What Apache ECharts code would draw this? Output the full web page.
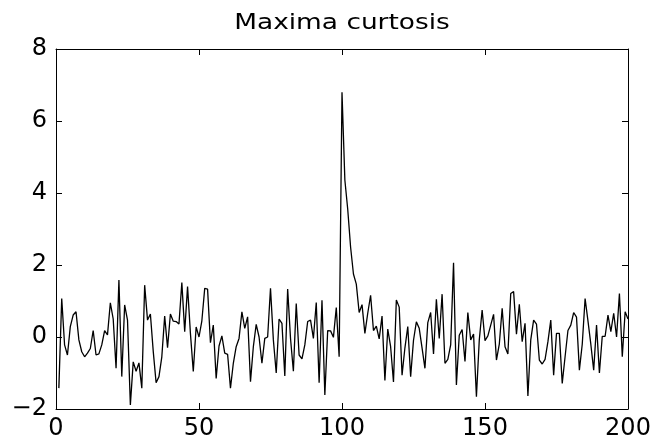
<!DOCTYPE html>
<html>
<head>
<meta charset="utf-8">
<script src="https://cdn.jsdelivr.net/npm/echarts@6/dist/echarts.min.js"></script>
<style>
  html, body { margin: 0; padding: 0; background: #fff; }
  #main { width: 656px; height: 443px; }
</style>
</head>
<body>
<div id="main"></div>
<script>
// values, x = 1..200
var curtosis = [
  -1.42, 1.07, -0.22, -0.5, 0.29, 0.61, 0.7, -0.08, -0.41, -0.55,
  -0.45, -0.32, 0.18, -0.5, -0.47, -0.22, 0.18, 0.06, 0.95, 0.5,
  -0.87, 1.58, -1.1, 0.89, 0.47, -1.89, -0.69, -0.95, -0.72, -1.42,
  1.44, 0.47, 0.64, -0.4, -1.27, -1.1, -0.55, 0.58, -0.3, 0.64,
  0.44, 0.43, 0.36, 1.51, 0.15, 1.4, 0.1, -0.96, 0.28, 0.0,
  0.45, 1.35, 1.33, -0.16, 0.33, -1.15, -0.25, 0.03, -0.45, -0.48,
  -1.42, -0.73, -0.27, -0.04, 0.7, 0.24, 0.56, -1.24, -0.27, 0.35,
  0.0, -0.73, -0.04, 0.0, 1.35, -0.08, -1.0, 0.5, 0.38, -1.08,
  1.33, -0.04, -0.95, 0.93, -0.5, -0.61, -0.22, 0.43, 0.47, -0.04,
  0.96, -1.27, 1.02, -1.61, 0.18, 0.17, -0.01, 0.82, -0.55, 6.8,
  4.36, 3.55, 2.5, 1.75, 1.47, 0.68, 0.9, 0.1, 0.66, 1.16,
  0.18, 0.3, -0.05, 0.58, -1.21, 0.22, -0.27, -1.25, 1.03, 0.83,
  -1.06, -0.3, 0.29, -1.1, -0.09, 0.42, 0.24, -0.31, -0.87, 0.4,
  0.68, -0.47, 1.05, -0.04, 1.19, -0.73, -0.62, -0.22, 2.06, -1.33,
  0.05, 0.21, -0.68, 0.68, -0.08, 0.08, -1.66, -0.08, 0.75, -0.1,
  0.03, 0.33, 0.63, -0.64, -0.2, 0.8, -0.27, -0.47, 1.21, 1.26,
  0.08, 0.91, -0.13, 0.38, -1.64, -0.08, 0.47, 0.36, -0.64, -0.75,
  -0.62, -0.13, 0.47, -1.06, 0.1, 0.1, -1.29, -0.55, 0.18, 0.33,
  0.68, 0.55, -0.92, -0.2, 1.07, 0.45, -0.2, -0.92, 0.33, -1.0,
  0.02, 0.02, 0.61, 0.15, 0.66, 0.0, 1.21, -0.55, 0.7, 0.5
];
var xTicks = [0, 50, 100, 150, 200];
var yTicks = [-2, 0, 2, 4, 6, 8];

var points = curtosis.map(function (v, i) { return [i + 1, v]; });

var font = 'DejaVu Sans, sans-serif';
var minus = function (v) { return String(v).replace('-', '\u2212'); };

var boxLine = { show: true, onZero: false, lineStyle: { color: '#000', width: 1 } };
var inTick = { show: true, inside: true, length: 6, lineStyle: { color: '#000', width: 1 } };

var myChart = echarts.init(document.getElementById('main'));
var option = {
    animation: false,
    // title drawn as graphic so it can be stretched like the original
    graphic: [
        {
            type: 'text',
            x: 342,
            y: 12,
            scaleX: 1.2,
            style: {
                text: 'Maxima curtosis',
                font: '22px DejaVu Sans, sans-serif',
                fill: '#000',
                textAlign: 'center',
                textVerticalAlign: 'top'
            }
        }
    ],
    grid: { left: 56, right: 28, top: 49, bottom: 34 },
    xAxis: [
        {
            type: 'value', min: xTicks[0], max: xTicks[xTicks.length - 1], interval: 50,
            axisLine: boxLine, axisTick: inTick, splitLine: { show: false },
            axisLabel: { color: '#000', fontFamily: font, fontSize: 24, margin: 8, formatter: minus }
        },
        {
            type: 'value', position: 'top', min: xTicks[0], max: xTicks[xTicks.length - 1], interval: 50,
            axisLine: boxLine, axisTick: inTick, splitLine: { show: false }, axisLabel: { show: false }
        }
    ],
    yAxis: [
        {
            type: 'value', min: yTicks[0], max: yTicks[yTicks.length - 1], interval: 2,
            axisLine: boxLine, axisTick: inTick, splitLine: { show: false },
            axisLabel: { color: '#000', fontFamily: font, fontSize: 24, margin: 9, formatter: minus }
        },
        {
            type: 'value', position: 'right', min: yTicks[0], max: yTicks[yTicks.length - 1], interval: 2,
            axisLine: boxLine, axisTick: inTick, splitLine: { show: false }, axisLabel: { show: false }
        }
    ],
    series: [
        {
            type: 'line',
            data: points,
            showSymbol: false,
            symbol: 'none',
            lineStyle: { color: '#000', width: 1.3 }
        }
    ]
};
myChart.setOption(option);
</script>
</body>
</html>
